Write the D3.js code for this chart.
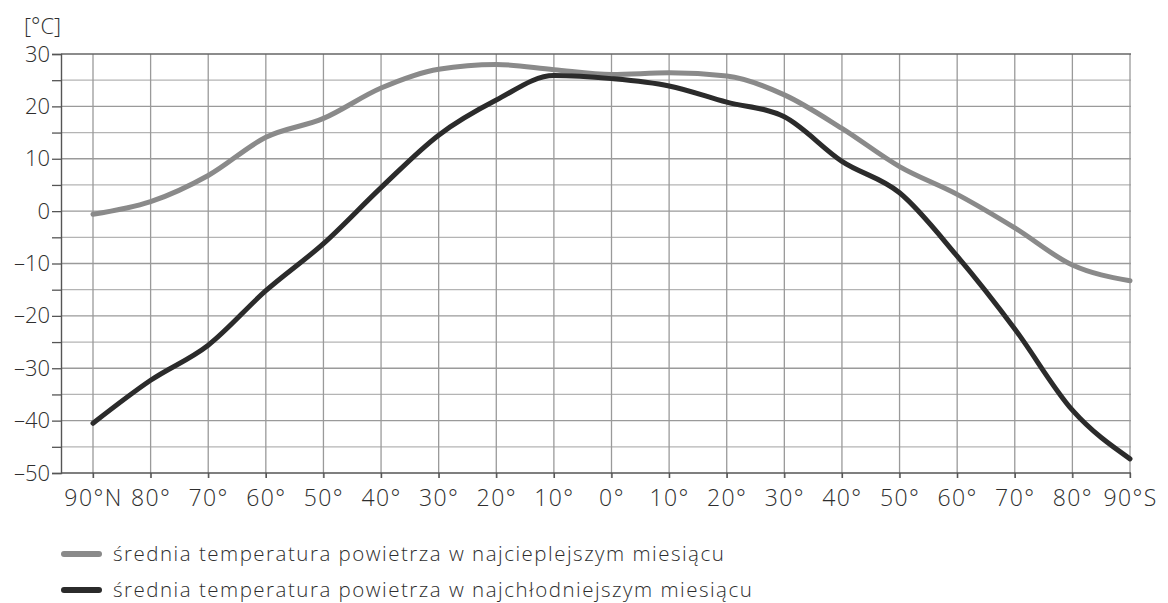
<!DOCTYPE html>
<html>
<head>
<meta charset="utf-8">
<script src="https://d3js.org/d3.v7.min.js"></script>
<style>
  body { margin: 0; background: #fff; font-family: "Open Sans", "Noto Sans", sans-serif; }
  svg { display: block; }
  text { font-weight: 300; }
</style>
</head>
<body>
<svg width="1168" height="603"></svg>
<script>
// latitude labels from 90N to 90S, every 10 degrees
const latitudes = ["90°N", "80°", "70°", "60°", "50°", "40°", "30°", "20°", "10°", "0°",
  "10°", "20°", "30°", "40°", "50°", "60°", "70°", "80°", "90°S"];
// mean temperature of the warmest month
const warmest = [-0.6, 1.8, 6.8, 14.1, 17.7, 23.5, 27.1, 28, 27, 26.1,
  26.4, 25.8, 22.2, 15.8, 8.5, 3.2, -3.2, -10.3, -13.3];
// mean temperature of the coldest month
const coldest = [-40.5, -32.3, -25.6, -15.2, -6.2, 4.5, 14.5, 21.2, 25.9, 25.3,
  23.9, 20.8, 18, 9.5, 3.5, -8.6, -22.5, -38, -47.3];
const yTicks = [30, 20, 10, 0, -10, -20, -30, -40, -50];
const legendLabels = [
  "średnia temperatura powietrza w najcieplejszym miesiącu",
  "średnia temperatura powietrza w najchłodniejszym miesiącu"
];

const svg = d3.select("svg");
const plotLeft = 61, plotRight = 1131, plotTop = 54, plotBottom = 473;
const textColor = "#2e2e2e";

const x = d3.scalePoint().domain(d3.range(latitudes.length)).range([93, 1130]);
const y = d3.scaleLinear().domain([-50, 30]).range([plotBottom, plotTop]);

// horizontal grid every 5 degrees
svg.append("g")
  .selectAll("line")
  .data(d3.range(-45, 30, 5))
  .join("line")
  .attr("x1", plotLeft).attr("x2", plotRight)
  .attr("y1", d => y(d)).attr("y2", d => y(d))
  .attr("stroke", d => d % 10 === 0 ? "#9a9a9a" : "#b4b4b4")
  .attr("stroke-width", 1.3);

// vertical grid
svg.append("g")
  .selectAll("line")
  .data(d3.range(latitudes.length))
  .join("line")
  .attr("x1", d => x(d)).attr("x2", d => x(d))
  .attr("y1", plotTop).attr("y2", plotBottom + 5)
  .attr("stroke", "#9a9a9a")
  .attr("stroke-width", 1.3);

// top border
svg.append("line")
  .attr("x1", plotLeft).attr("x2", plotRight)
  .attr("y1", plotTop).attr("y2", plotTop)
  .attr("stroke", "#666").attr("stroke-width", 1.3);

// y axis
const yAxis = svg.append("g")
  .attr("transform", `translate(${plotLeft},0)`)
  .call(d3.axisLeft(y).tickValues(d3.range(-50, 31, 5)).tickSize(9)
    .tickFormat(d => yTicks.includes(d) ? String(d).replace("-", "\u2013") : ""));
yAxis.select(".domain").attr("stroke", "#555").attr("stroke-width", 1.4);
yAxis.selectAll(".tick line").attr("stroke", "#555").attr("stroke-width", 1.3);
yAxis.selectAll(".tick text")
  .attr("x", -11)
  .attr("fill", textColor)
  .style("font-family", "'Open Sans', sans-serif")
  .style("font-size", "22px");

// x axis
const xAxis = svg.append("g")
  .attr("transform", `translate(0,${plotBottom})`)
  .call(d3.axisBottom(x).tickSize(5).tickFormat(i => latitudes[i]));
xAxis.select(".domain").attr("d", `M${plotLeft},0H${plotRight}`)
  .attr("stroke", "#555").attr("stroke-width", 1.4);
xAxis.selectAll(".tick line").attr("stroke", "#555").attr("stroke-width", 1.3);
xAxis.selectAll(".tick text")
  .attr("y", 33).attr("dy", null)
  .attr("fill", textColor)
  .style("font-family", "'Open Sans', sans-serif")
  .style("font-size", "23px")
  .style("letter-spacing", "1.4px");

// unit label
svg.append("text")
  .attr("x", 24).attr("y", 34)
  .attr("fill", textColor)
  .style("font-size", "22px")
  .text("[°C]");

// lines
const line = d3.line()
  .x((d, i) => x(i))
  .y(d => y(d))
  .curve(d3.curveMonotoneX);

const series = [
  { values: warmest, color: "#8a8a8a" },
  { values: coldest, color: "#2b2b2b" }
];

svg.append("g")
  .selectAll("path")
  .data(series)
  .join("path")
  .attr("d", d => line(d.values))
  .attr("fill", "none")
  .attr("stroke", d => d.color)
  .attr("stroke-width", 5)
  .attr("stroke-linecap", "round")
  .attr("stroke-linejoin", "round");

// legend
const legend = svg.append("g")
  .selectAll("g")
  .data(series)
  .join("g")
  .attr("transform", (d, i) => `translate(0,${554 + i * 36})`);

legend.append("line")
  .attr("x1", 64).attr("x2", 99)
  .attr("stroke", d => d.color)
  .attr("stroke-width", 6)
  .attr("stroke-linecap", "round");

legend.append("text")
  .attr("x", 113).attr("y", 7)
  .attr("fill", textColor)
  .style("font-size", "20.5px")
  .style("letter-spacing", "1.5px")
  .text((d, i) => legendLabels[i]);
</script>
</body>
</html>
